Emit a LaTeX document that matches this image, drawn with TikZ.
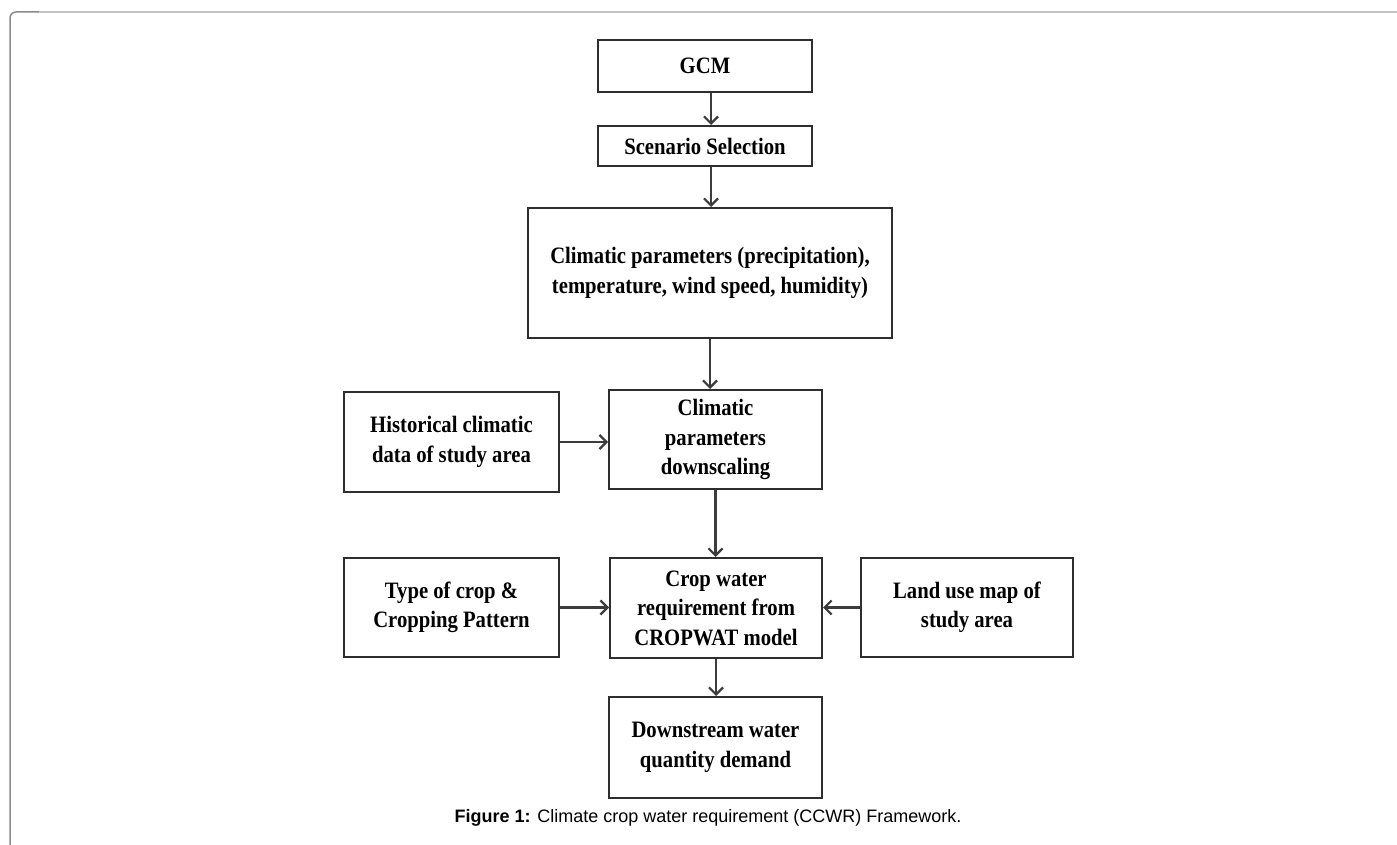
\documentclass[tikz,border=0pt]{standalone}
\usepackage{fontspec}
\setmainfont{Liberation Serif}
\newfontfamily\boxfont[FakeStretch=0.88]{Liberation Serif}
\newfontfamily\capfont{Liberation Sans}
\usepackage{xcolor}
\usepackage{tikz}
\usetikzlibrary{arrows.meta}
\definecolor{boxgray}{HTML}{2E2E2E}
\definecolor{arrgray}{HTML}{3C3C3C}
\definecolor{frametop}{HTML}{C4C4C4}
\definecolor{frameside}{HTML}{8A8A8A}

\begin{document}
\begin{tikzpicture}[x=1pt,y=-1pt,
    box/.style={draw=boxgray,line width=2pt,align=center,inner sep=0pt,
        font=\boxfont\bfseries\fontsize{23.5}{29.5}\selectfont},
    arr/.style={draw=arrgray,line width=2.2pt,-{Straight Barb[length=7pt,width=14pt]}}]
        \clip (0,0) rectangle (1397,845);
        % frame
        \draw[frameside,line width=1.5pt,rounded corners=6pt] (10,900) -- (10,12) -- (40,12);
        \draw[frametop,line width=2pt] (39,12) -- (1450,12);
        % boxes
        \node[box,minimum width=214pt,minimum height=52pt] (gcm) at (705,66) {GCM};
        \node[box,minimum width=214pt,minimum height=40pt] (scen) at (705,146) {Scenario Selection};
        \node[box,minimum width=364pt,minimum height=130pt] (clim) at (710,273) {Climatic parameters (precipitation),\\temperature, wind speed, humidity)};
        \node[box,minimum width=215pt,minimum height=100pt] (hist) at (451.5,442) {Historical climatic\\data of study area};
        \node[box,minimum width=213pt,minimum height=99pt] (down) at (715.5,439.5) {Climatic\\parameters\\downscaling};
        \node[box,minimum width=215pt,minimum height=99pt] (type) at (451.5,607.5) {Type of crop \&\\Cropping Pattern};
        \node[box,minimum width=212pt,minimum height=100pt] (crop) at (716,608) {Crop water\\requirement from\\CROPWAT model};
        \node[box,minimum width=212pt,minimum height=99pt] (land) at (967,607.5) {Land use map of\\study area};
        \node[box,minimum width=213pt,minimum height=101pt] (dstream) at (715.5,747.5) {Downstream water\\quantity demand};
        % arrows
        \draw[arr] ([xshift=6pt]gcm.south) -- ([xshift=6pt]scen.north);
        \draw[arr] ([xshift=6pt]scen.south) -- ([xshift=6pt]scen.south |- clim.north);
        \draw[arr] (clim.south) -- (clim.south |- down.north);
        \draw[arr] (hist.east) -- (hist.east -| down.west);
        \draw[arr] (down.south) -- (down.south |- crop.north);
        \draw[arr] (type.east) -- (type.east -| crop.west);
        \draw[arr] (land.west) -- (land.west -| crop.east);
        \draw[arr] (crop.south) -- (crop.south |- dstream.north);
        % caption
        \node[font=\capfont\fontsize{18}{20}\selectfont,anchor=base] (cap) at (708,822) {\textbf{Figure 1:} Climate crop water requirement (CCWR) Framework.};
\end{tikzpicture}
\end{document}
